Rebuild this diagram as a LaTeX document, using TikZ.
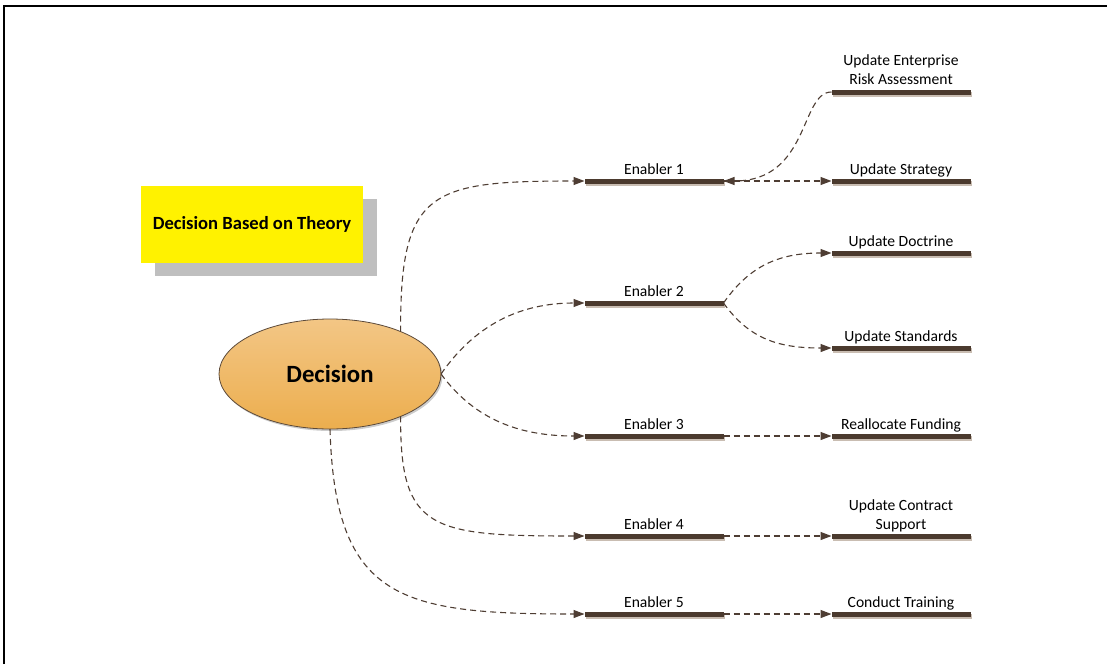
\documentclass[tikz,border=0pt]{standalone}
\usepackage{fontspec}
\setmainfont{Carlito}
\usetikzlibrary{arrows.meta,shadows,shapes.geometric}
\definecolor{barbrown}{HTML}{4B3A2E}
\definecolor{barshade}{HTML}{C9BDB2}
\definecolor{linkbrown}{HTML}{4E3D33}
\definecolor{ovaltop}{HTML}{F3C685}
\definecolor{ovalbot}{HTML}{ECAE4E}
\definecolor{ovaledge}{HTML}{5C4A3A}

\begin{document}
\begin{tikzpicture}[x=1pt,y=-1pt,
  bar/.style={rectangle, fill=barbrown, minimum width=139pt, minimum height=5pt,
    inner sep=0pt, outer sep=0pt,
    drop shadow={shadow xshift=1.5pt, shadow yshift=-2pt, fill=barshade, opacity=1}},
  lbl/.style={font=\fontsize{15.6}{18.5}\selectfont, align=center, inner sep=0pt, anchor=base},
  link/.style={draw=linkbrown, line width=1.1pt, dash pattern=on 6pt off 4pt,
    -{Triangle[length=11pt,width=8pt,fill=linkbrown]}},
  titlebox/.style={rectangle, fill=yellow, minimum width=222pt, minimum height=77pt,
    inner sep=0pt, font=\bfseries\fontsize{18.6}{22}\selectfont,
    drop shadow={shadow xshift=14pt, shadow yshift=-13pt, fill=black!25, opacity=1}},
  oval/.style={ellipse, draw=ovaledge, line width=0.8pt, top color=ovaltop, bottom color=ovalbot,
    minimum width=222pt, minimum height=110pt, inner sep=0pt, outer sep=0pt,
    font=\bfseries\fontsize{24.8}{29}\selectfont,
    drop shadow={shadow xshift=1.5pt, shadow yshift=-2pt, fill=black!40, opacity=0.5}}
]
\useasboundingbox (0,0) rectangle (1107,664);

% page frame (top and left edges only)
\draw[line width=2pt] (4,664) -- (4,6) -- (1107,6);

% title box and central decision
\node[titlebox] (title) at (252,224.5) {Decision Based on Theory};
\node[oval] (dec) at (330,374) {Decision};

% enabler bars
\node[bar] (e1) at (654,181) {};
\node[bar] (e2) at (654,303) {};
\node[bar] (e3) at (654,436) {};
\node[bar] (e4) at (654,536) {};
\node[bar] (e5) at (654,614) {};
\node[lbl] (e1t) at (654,174) {Enabler 1};
\node[lbl] (e2t) at (654,296) {Enabler 2};
\node[lbl] (e3t) at (654,429) {Enabler 3};
\node[lbl] (e4t) at (654,529) {Enabler 4};
\node[lbl] (e5t) at (654,607) {Enabler 5};

% outcome bars
\node[bar] (r1) at (901,92) {};
\node[bar] (r2) at (901,181) {};
\node[bar] (r3) at (901,253) {};
\node[bar] (r4) at (901,348) {};
\node[bar] (r5) at (901,436) {};
\node[bar] (r6) at (901,536) {};
\node[bar] (r7) at (901,614) {};
\node[lbl] (r1t) at (901,84) {Update Enterprise\\Risk Assessment};
\node[lbl] (r2t) at (901,174) {Update Strategy};
\node[lbl] (r3t) at (901,246) {Update Doctrine};
\node[lbl] (r4t) at (901,341) {Update Standards};
\node[lbl] (r5t) at (901,429) {Reallocate Funding};
\node[lbl] (r6t) at (901,529) {Update Contract\\Support};
\node[lbl] (r7t) at (901,607) {Conduct Training};

% decision to enablers
\draw[link] (dec.31) .. controls (400,190) and (430,181) .. (e1.west);
\draw[link] (dec.east) .. controls (475,325) and (520,303) .. (e2.west);
\draw[link] (dec.east) .. controls (475,420) and (520,436) .. (e3.west);
\draw[link] (dec.-31) .. controls (400,530) and (430,536) .. (e4.west);
\draw[link] (dec.south) .. controls (335,600) and (400,614) .. (e5.west);

% enablers to outcomes
\draw[link] (r1.west) .. controls (800,92) and (810,181) .. (e1.east);
\draw[link] (e1.east) -- (r2.west);
\draw[link] (e2.east) .. controls (750,265) and (780,253) .. (r3.west);
\draw[link] (e2.east) .. controls (750,340) and (780,348) .. (r4.west);
\draw[link] (e3.east) -- (r5.west);
\draw[link] (e4.east) -- (r6.west);
\draw[link] (e5.east) -- (r7.west);
\end{tikzpicture}
\end{document}
